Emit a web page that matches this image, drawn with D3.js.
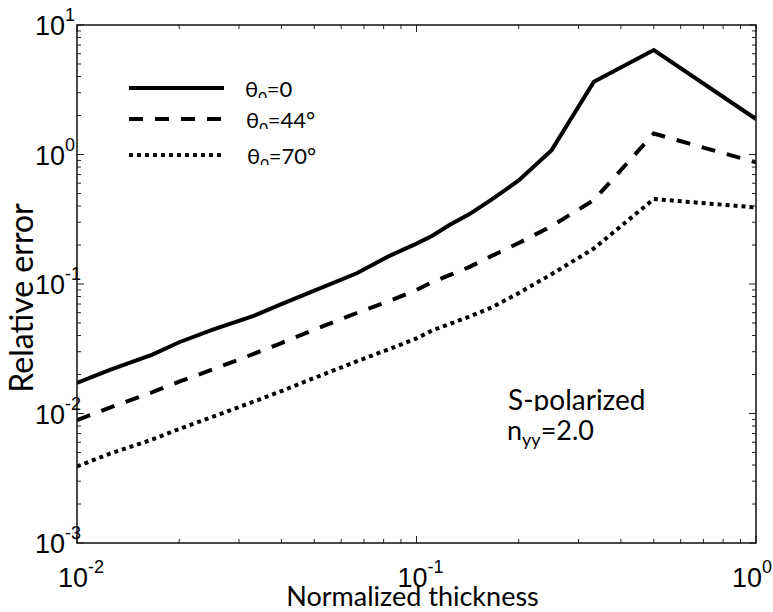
<!DOCTYPE html>
<html>
<head>
<meta charset="utf-8">
<script src="https://cdn.jsdelivr.net/npm/d3@7"></script>
<style>
  body { margin: 0; background: #fff; }
  svg { display: block; }
</style>
</head>
<body>
<div id="chart"></div>
<script>
// data (x = normalized thickness, y = relative error)
var thickness = [0.01, 0.0125, 0.01667, 0.02, 0.025, 0.0333, 0.04, 0.05, 0.0667, 0.0833,
                 0.1, 0.111, 0.125, 0.1429, 0.1667, 0.2, 0.25, 0.333, 0.5, 1];
var err0  = [0.0172, 0.0217, 0.0285, 0.0355, 0.0442, 0.057, 0.070, 0.089, 0.121, 0.165,
             0.205, 0.235, 0.285, 0.345, 0.45, 0.63, 1.08, 3.65, 6.4, 1.88];
var err44 = [0.0089, 0.0111, 0.0146, 0.0176, 0.0218, 0.029, 0.035, 0.0444, 0.0597, 0.074,
             0.09, 0.103, 0.117, 0.135, 0.165, 0.207, 0.28, 0.445, 1.45, 0.87];
var err70 = [0.0039, 0.0049, 0.0063, 0.0076, 0.0094, 0.0124, 0.0149, 0.0188, 0.0253, 0.0315,
             0.038, 0.0437, 0.049, 0.056, 0.066, 0.085, 0.119, 0.188, 0.453, 0.39];
var seriesNames = ["0", "44°", "70°"];
var xTicks = [-2, -1, 0];          // exponents
var yTicks = [1, 0, -1, -2, -3];   // exponents

// set the dimensions and margins of the graph
var margin = {top: 25, right: 17, bottom: 69, left: 77},
    width = 773 - margin.left - margin.right,
    height = 612 - margin.top - margin.bottom;

var svg = d3.select("#chart")
  .append("svg")
    .attr("width", 773)
    .attr("height", 612);

var g = svg.append("g")
    .attr("transform", "translate(" + margin.left + "," + margin.top + ")");

var x = d3.scaleLog().domain([0.01, 1]).range([0, width]);
var y = d3.scaleLog().domain([0.001, 10]).range([height, 0]);

var lineStyles = [
  {dash: null},
  {dash: "14,12"},
  {dash: "4,4"}
];
var series = [err0, err44, err70];

// clip to the axes box
svg.append("clipPath").attr("id", "plotclip")
  .append("rect").attr("x", 0).attr("y", 0).attr("width", width).attr("height", height);

var line = d3.line()
  .x(function(d) { return x(d[0]); })
  .y(function(d) { return y(d[1]); });

var lines = g.append("g").attr("clip-path", "url(#plotclip)");
series.forEach(function(s, i) {
  lines.append("path")
    .datum(thickness.map(function(t, j) { return [t, s[j]]; }))
    .attr("fill", "none")
    .attr("stroke", "#000")
    .attr("stroke-width", 4)
    .attr("stroke-linejoin", "miter")
    .attr("stroke-dasharray", lineStyles[i].dash)
    .attr("d", line);
});

// minor/major ticks on all four sides, pointing inward
var xMinor = [], yMinor = [];
for (var e = -2; e < 0; e++) for (var k = 2; k <= 9; k++) xMinor.push(k * Math.pow(10, e));
for (var e2 = -3; e2 < 1; e2++) for (var k2 = 2; k2 <= 9; k2++) yMinor.push(k2 * Math.pow(10, e2));

var ticks = g.append("g").attr("stroke", "#222").attr("stroke-width", 1);
function vt(v, len) {
  ticks.append("line").attr("x1", x(v)).attr("x2", x(v)).attr("y1", height).attr("y2", height - len);
  ticks.append("line").attr("x1", x(v)).attr("x2", x(v)).attr("y1", 0).attr("y2", len);
}
function ht(v, len) {
  ticks.append("line").attr("y1", y(v)).attr("y2", y(v)).attr("x1", 0).attr("x2", len);
  ticks.append("line").attr("y1", y(v)).attr("y2", y(v)).attr("x1", width).attr("x2", width - len);
}
xMinor.forEach(function(v) { vt(v, 4); });
xTicks.forEach(function(p) { vt(Math.pow(10, p), 7); });
yMinor.forEach(function(v) { ht(v, 4); });
yTicks.forEach(function(p) { ht(Math.pow(10, p), 7); });

// box
g.append("rect")
  .attr("width", width).attr("height", height)
  .attr("fill", "none").attr("stroke", "#111").attr("stroke-width", 1.5);

// tick labels
var tickFont = "'Liberation Sans', Arial, sans-serif";
xTicks.forEach(function(p) {
  var t = g.append("text")
    .attr("y", height + 44)
    .attr("font-family", tickFont)
    .attr("font-size", 27);
  t.append("tspan").text("10");
  t.append("tspan").attr("dy", -14).attr("font-size", 18).text(p);
  var w = t.node().getComputedTextLength();
  var w10 = t.select("tspan").node().getComputedTextLength();
  var left = x(Math.pow(10, p)) - 4 - w10 / 2;
  // keep the last label inside the page
  left = Math.min(left, 773 - margin.left - w - 1);
  t.attr("x", left);
});
yTicks.forEach(function(p) {
  var t = svg.append("text")
    .attr("x", 35)
    .attr("y", margin.top + y(Math.pow(10, p)) + 10)
    .attr("font-family", tickFont)
    .attr("font-size", 27);
  t.append("tspan").text("10");
  t.append("tspan").attr("dy", -14).attr("font-size", 18).text(p);
});

// axis titles
var labFont = "Lato, 'Open Sans', sans-serif";
svg.append("text")
  .attr("x", margin.left + width / 2 - 4)
  .attr("y", 606)
  .attr("text-anchor", "middle")
  .attr("font-family", labFont)
  .attr("font-size", 27)
  .text("Normalized thickness");

svg.append("text")
  .attr("transform", "translate(33," + 298 + ") rotate(-90)")
  .attr("text-anchor", "middle")
  .attr("font-family", labFont)
  .attr("font-size", 32)
  .text("Relative error");

// legend
var legY = [88, 119, 155];
var legTx = [245, 246, 247];
var leg = svg.append("g");
series.forEach(function(s, i) {
  leg.append("line")
    .attr("x1", 129).attr("x2", 224)
    .attr("y1", legY[i]).attr("y2", legY[i])
    .attr("stroke", "#000").attr("stroke-width", 4)
    .attr("stroke-dasharray", lineStyles[i].dash);
  var base = legY[i] + 9;
  svg.append("clipPath").attr("id", "legclip" + i)
    .append("rect").attr("x", 230).attr("y", base - 40).attr("width", 120).attr("height", 41);
  var t = leg.append("text")
    .attr("x", legTx[i]).attr("y", base)
    .attr("clip-path", "url(#legclip" + i + ")")
    .attr("font-family", labFont)
    .attr("font-size", 22);
  t.append("tspan").text("θ");
  t.append("tspan").attr("dy", 6).attr("font-size", 15).text("0");
  t.append("tspan").attr("dy", -6).text("=" + seriesNames[i]);
});

// annotation
svg.append("clipPath").attr("id", "annclip")
  .append("rect").attr("x", 490).attr("y", 370).attr("width", 200).attr("height", 41);
svg.append("text")
  .attr("x", 508).attr("y", 410)
  .attr("clip-path", "url(#annclip)")
  .attr("font-family", labFont)
  .attr("font-size", 28)
  .text("S-polarized");
var nt = svg.append("text")
  .attr("x", 507).attr("y", 440)
  .attr("font-family", labFont)
  .attr("font-size", 27);
nt.append("tspan").text("n");
nt.append("tspan").attr("dy", 6).attr("font-size", 18).text("yy");
nt.append("tspan").attr("dy", -6).text("=2.0");
</script>
</body>
</html>
